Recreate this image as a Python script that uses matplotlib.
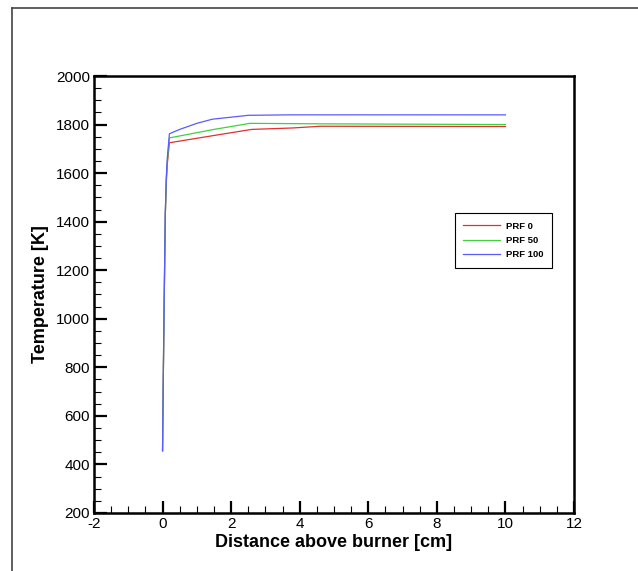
import matplotlib
matplotlib.use("Agg")
import matplotlib.pyplot as plt
from matplotlib.lines import Line2D
from matplotlib.ticker import MultipleLocator

plt.rcParams['font.family'] = ['Liberation Sans', 'DejaVu Sans']
plt.rcParams['axes.unicode_minus'] = False

# Data
x_prf0 = [0, 0.02, 0.05, 0.08, 0.11, 0.14, 0.2, 1.5, 2.6, 3.8, 4.6, 10]
t_prf0 = [456, 735, 1095, 1425, 1565, 1640, 1725, 1755, 1780, 1786, 1793, 1792]
x_prf50 = [0, 0.02, 0.05, 0.08, 0.11, 0.14, 0.2, 1.5, 2.55, 4.6, 10]
t_prf50 = [456, 740, 1100, 1430, 1575, 1650, 1745, 1780, 1805, 1803, 1800]
x_prf100 = [0, 0.02, 0.05, 0.08, 0.11, 0.14, 0.2, 0.5, 1.0, 1.45, 2.5, 3.7, 5, 10]
t_prf100 = [456, 745, 1105, 1435, 1585, 1665, 1762, 1780, 1805, 1822, 1838, 1840, 1840, 1840]
labels = ["PRF 0", "PRF 50", "PRF 100"]

fig = plt.figure(figsize=(6.38, 5.71), dpi=100)
ax = fig.add_axes([0.1473, 0.1016, 0.7524, 0.7653])

ax.plot(x_prf0, t_prf0, color='#e03030', lw=0.9, label=labels[0])
ax.plot(x_prf50, t_prf50, color='#40d040', lw=0.9, label=labels[1])
ax.plot(x_prf100, t_prf100, color='#5a5aff', lw=0.9, label=labels[2])

ax.set_xlim(-2, 12)
ax.set_ylim(200, 2000)
ax.xaxis.set_major_locator(MultipleLocator(2))
ax.xaxis.set_minor_locator(MultipleLocator(0.5))
ax.yaxis.set_major_locator(MultipleLocator(200))
ax.yaxis.set_minor_locator(MultipleLocator(50))
ax.tick_params(which='major', direction='in', length=9, width=1.6, labelsize=11, pad=3)
ax.tick_params(which='minor', direction='in', length=5, width=0.8)
for s in ax.spines.values():
    s.set_linewidth(1.8)

ax.set_xlabel("Distance above burner [cm]", fontsize=13, fontweight='bold', labelpad=2)
ax.set_ylabel("Temperature [K]", fontsize=13, fontweight='bold', labelpad=5)

leg = ax.legend(loc='upper left', bbox_to_anchor=(0.752, 0.686),
                prop={'weight': 'bold', 'size': 6.8}, fancybox=False, edgecolor='black',
                framealpha=1, handlelength=3.9, borderpad=0.9, labelspacing=0.55,
                handletextpad=0.6, borderaxespad=0)
leg.get_frame().set_linewidth(0.8)

# outer frame
fig.add_artist(Line2D([12/638, 12/638], [0, 1 - 8/571], color='#444444', lw=1.2, transform=fig.transFigure))
fig.add_artist(Line2D([12/638, 1], [1 - 8/571, 1 - 8/571], color='#444444', lw=1.2, transform=fig.transFigure))

fig.savefig("out.png", dpi=100)
